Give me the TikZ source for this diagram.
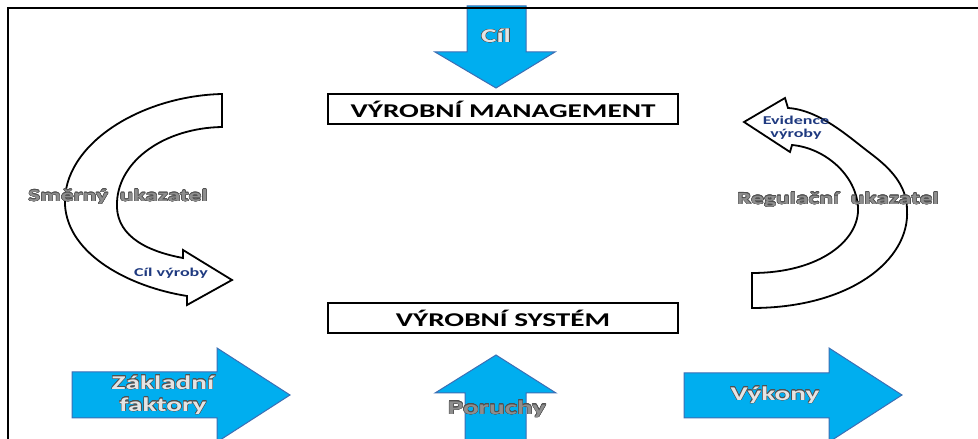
\documentclass[tikz,border=0pt]{standalone}
\usepackage{fontspec}
\usepackage{contour}
\newfontfamily\widefont[FakeStretch=1.5]{Carlito}
\definecolor{arrowblue}{HTML}{00AEEF}
\definecolor{arrowedge}{HTML}{3C6EB4}
\definecolor{labelnavy}{HTML}{1F3A80}
\definecolor{labelgrey}{HTML}{8E8E8E}
\definecolor{labellight}{HTML}{E4E4E4}
\definecolor{labeledge}{HTML}{505050}
\contourlength{0.45pt}
\tikzset{
  bluearrow/.style={fill=arrowblue, draw=arrowedge, line width=1bp, line join=miter},
  curvearrow/.style={fill=white, draw=black, line width=1.8bp, line join=miter},
  levelbox/.style={draw=black, line width=1.6bp, fill=white, minimum width=350bp,
    minimum height=30bp, inner sep=0pt,
    font=\widefont\bfseries\fontsize{19.5bp}{22bp}\selectfont},
  arrowlabel/.style={inner sep=0pt, align=center,
    font=\widefont\bfseries\fontsize{19.5bp}{24bp}\selectfont},
  sidelabel/.style={inner sep=0pt,
    font=\widefont\bfseries\fontsize{17bp}{20bp}\selectfont},
  tiplabel/.style={inner sep=0pt, align=center, text=labelnavy,
    font=\widefont\bfseries\fontsize{12bp}{13bp}\selectfont},
}
\newcommand{\lightlabel}[1]{\contour{labeledge}{\textcolor{labellight}{#1}}}
\newcommand{\greylabel}[1]{\contour{labeledge}{\textcolor{labelgrey}{#1}}}
\begin{document}
\begin{tikzpicture}[x=1bp, y=-1bp]
\useasboundingbox (0,0) rectangle (978,439);
\clip (0,0) rectangle (978,439);

% goal arrow entering from the top
\draw[bluearrow] (467,6) -- (526,6) -- (526,52) -- (555,52) -- (496,88)
  -- (435,52) -- (467,52) -- cycle;
\node[arrowlabel] (goal) at (496,36) {\lightlabel{Cíl}};

% inputs, outputs and disturbances
\draw[bluearrow] (72,372) -- (217,372) -- (217,348) -- (290,395) -- (217,442)
  -- (217,418) -- (72,418) -- cycle;
\node[arrowlabel] (inputs) at (163,395) {\lightlabel{Základní}\\[-2bp]\lightlabel{faktory}};

\draw[bluearrow] (684,373) -- (829,373) -- (829,348) -- (902,395) -- (829,442)
  -- (829,418) -- (684,418) -- cycle;
\node[arrowlabel] (outputs) at (775,395) {\lightlabel{Výkony}};

\draw[bluearrow] (465,445) -- (465,393) -- (435,393) -- (496,355) -- (556,393)
  -- (526,393) -- (526,445) -- cycle;
\node[arrowlabel] (faults) at (497,409) {\greylabel{Poruchy}};

% the two levels
\node[levelbox] (mgmt) at (503,109) {VÝROBNÍ MANAGEMENT};
\node[levelbox] (sys) at (503,318) {VÝROBNÍ SYSTÉM};

% directive loop on the left
\draw[curvearrow]
  (222,94) .. controls (140,96) and (62,145) .. (65,205)
  .. controls (68,255) and (130,287) .. (187,296)
  -- (187,305) -- (232,280) -- (183,250) -- (183,258)
  .. controls (140,250) and (115,232) .. (117,202)
  .. controls (119,160) and (165,128) .. (222,127)
  -- cycle;
\node[sidelabel] (directive) at (118,197) {\greylabel{Směrný\ \ ukazatel}};
\node[tiplabel] (target) at (171,273) {Cíl výroby};

% regulating loop on the right
\draw[curvearrow]
  (752,308) .. controls (850,308) and (910,260) .. (907,210)
  .. controls (907,185) and (890,168) .. (870,153)
  .. controls (850,138) and (820,110) .. (788,108)
  -- (785,98) -- (744,122) -- (790,152) -- (792,145)
  .. controls (825,148) and (856,175) .. (858,207)
  .. controls (860,240) and (820,273) .. (752,273)
  -- cycle;
\node[sidelabel] (regulating) at (838,200) {\greylabel{Regulační\ \ ukazatel}};
\node[tiplabel] (record) at (796,128) {Evidence\\výroby};

% frame on the top and left edges
\draw[black, line width=2.2bp] (8,439) -- (8,8) -- (978,8);
\end{tikzpicture}
\end{document}
